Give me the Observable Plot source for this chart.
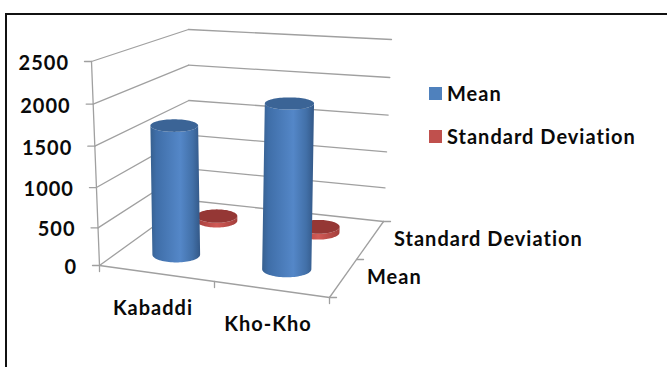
<!DOCTYPE html>
<html>
<head>
<meta charset="utf-8">
<script src="https://cdn.jsdelivr.net/npm/d3@7"></script>
<script src="https://cdn.jsdelivr.net/npm/@observablehq/plot@0.6"></script>
<style>
  html, body { margin: 0; padding: 0; background: #fff; overflow: hidden; }
  #chart { position: relative; width: 667px; height: 367px; font-family: Lato, sans-serif; }
  #chart svg { position: absolute; left: 0; top: 0; letter-spacing: 1px; }
  #frame { position: absolute; left: 5px; top: 13px; width: 667px; height: 367px; border: 2px solid #111; box-sizing: border-box; }
  .key { position: absolute; left: 429px; display: flex; align-items: center; font-weight: 700; font-size: 20px; letter-spacing: 1px; line-height: 20px; color: #0a0a0a; white-space: nowrap; }
  .key i { display: inline-block; width: 13px; height: 13px; margin-right: 5px; }
</style>
</head>
<body>
<div id="chart"><div id="frame"></div></div>
<script>
const categories = ["Kabaddi", "Kho-Kho"];
const seriesNames = ["Mean", "Standard Deviation"];
const meanValues = [1655, 2040];
const sdValues = [75, 90];
const valueTicks = [0, 500, 1000, 1500, 2000, 2500];
const valueMax = 2500;

// Corners of the 3D box on the page: [category side, series depth, bottom/top]
const box = {
  frontLeft:  {low: [99, 265],  high: [91, 61]},
  frontRight: {low: [329, 297], high: [335, 80]},
  backLeft:   {low: [189, 200], high: [188, 29]},
  backRight:  {low: [383, 221], high: [391, 39]}
};
const foreshorten = 1.05;   // the vertical axis compresses slightly towards the floor
const columnShift = {dx: -1, dy: -2};
const mix = (a, b, t) => [a[0] + (b[0] - a[0]) * t, a[1] + (b[1] - a[1]) * t];

// u: category position 0..2, v: series depth 0..2
function project(u, v, value) {
  const s = u / categories.length, d = v / seriesNames.length;
  const h = Math.pow(value / valueMax, foreshorten);
  const corner = (c) => mix(c.low, c.high, h);
  return mix(
    mix(corner(box.frontLeft), corner(box.frontRight), s),
    mix(corner(box.backLeft), corner(box.backRight), s),
    d
  );
}
const pt = (u, v, value, dx = 0, dy = 0) => {
  const [x, y] = project(u, v, value);
  return {x: x + dx, y: y + dy};
};

// Outline of a cylinder around the projected centres of its base and its top
function ellipseAt(u, v, value, girth) {
  const c = project(u, v, value);
  const span = project(u, v, valueMax)[1] - project(u, v, 0)[1];
  const rx = girth * Math.abs(span);
  const ry = rx * (0.33 - 0.04 * value / 1000);
  return {c: [c[0] + columnShift.dx, c[1] + columnShift.dy], rx, ry};
}
function arc(e, from, to, n = 40) {
  return d3.range(n + 1).map((i) => {
    const t = from + (to - from) * i / n;
    return {x: e.c[0] + e.rx * Math.cos(t), y: e.c[1] + e.ry * Math.sin(t)};
  });
}
function cylinder(u, v, value, girth, sidePaint, topPaint) {
  const base = ellipseAt(u, v, 0, girth), top = ellipseAt(u, v, value, girth);
  const side = [...arc(top, Math.PI, 0), ...arc(base, 0, Math.PI)];
  return [
    Plot.line(side, {x: "x", y: "y", fill: sidePaint, stroke: "none"}),
    Plot.line(arc(top, 0, 2 * Math.PI, 80), {x: "x", y: "y", fill: topPaint, stroke: "none"})
  ];
}

const gradients = () => {
  const svg = d3.create("svg:defs");
  const add = (id, stops) => {
    const g = svg.append("linearGradient").attr("id", id).attr("x1", 0).attr("x2", 1).attr("y1", 0).attr("y2", 0);
    stops.forEach(([o, c]) => g.append("stop").attr("offset", o).attr("stop-color", c));
  };
  add("meanSide", [[0, "#37608f"], [0.12, "#3f6ea8"], [0.6, "#5487c8"], [0.85, "#4270a8"], [1, "#335887"]]);
  add("sdSide", [[0, "#a33e3b"], [0.5, "#d05a56"], [1, "#a33e3b"]]);
  return svg.node();
};

const gridColor = "#a0a0a0";
const seg = (a, b) => Plot.line([a, b], {x: "x", y: "y", stroke: gridColor, strokeWidth: 1.3});
const [nCat, nSer] = [categories.length, seriesNames.length];

const marks = [
  gradients,
  // walls
  ...valueTicks.flatMap((t) => [
    seg(pt(0, 0, t), pt(0, nSer, t)),
    seg(pt(0, nSer, t), pt(nCat, nSer, t)),
    seg(pt(0, 0, t), pt(0, 0, t, -7, 0))
  ]),
  seg(pt(0, 0, 0), pt(0, 0, valueMax)),
  // floor outline and its ticks
  seg(pt(0, 0, 0), pt(nCat, 0, 0)),
  seg(pt(nCat, 0, 0), pt(nCat, nSer, 0)),
  ...d3.range(nCat + 1).map((i) => seg(pt(i, 0, 0), pt(i, 0, 0, 0, 6))),
  ...d3.range(nSer + 1).map((i) => seg(pt(nCat, i, 0), pt(nCat, i, 0, 7, 0))),
  // cylinders, rear series first
  ...sdValues.flatMap((v, i) => cylinder(i + 0.5, 1.5, v, 0.113, "url(#sdSide)", "#953735")),
  ...meanValues.flatMap((v, i) => cylinder(i + 0.5, 0.5, v, 0.12, "url(#meanSide)", "#3b6496")),
  // axis labels
  Plot.text(valueTicks.map((t) => ({...pt(0, 0, t, -22.5, 2), t})), {
    x: "x", y: "y", text: (d) => String(d.t), textAnchor: "end"
  }),
  Plot.text(categories.map((c, i) => ({...pt(i + 0.5, 0, 0, -4, 35), c})), {
    x: "x", y: "y", text: "c"
  }),
  Plot.text(seriesNames.map((c, i) => ({...pt(nCat, i + 0.5, 0, 24, -1), c})), {
    x: "x", y: "y", text: "c", textAnchor: "start"
  })
];

const plot = Plot.plot({
  width: 667, height: 367, margin: 0,
  x: {domain: [0, 667], range: [0, 667], axis: null},
  y: {domain: [0, 367], range: [0, 367], axis: null},
  style: {background: "transparent", fontFamily: "Lato, sans-serif", fontSize: "20px", fontWeight: 700, color: "#0a0a0a"},
  marks
});
const chart = document.getElementById("chart");
chart.appendChild(plot);

// Series key
[["Mean", "#4f81bd", 83], ["Standard Deviation", "#c0504d", 126]].forEach(([name, colour, top]) => {
  const key = document.createElement("div");
  key.className = "key";
  key.style.top = top + "px";
  key.innerHTML = `<i style="background:${colour}"></i>${name}`;
  chart.appendChild(key);
});
</script>
</body>
</html>
